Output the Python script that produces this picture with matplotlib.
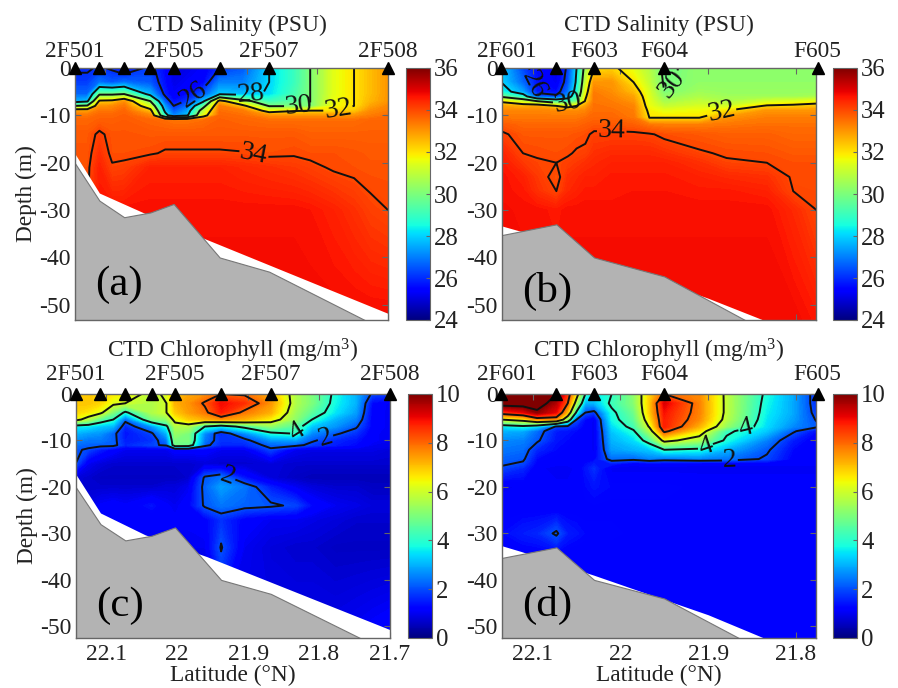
import numpy as np
import matplotlib
matplotlib.use('Agg')
import matplotlib.pyplot as plt

plt.rcParams['font.family'] = ['Liberation Serif', 'DejaVu Serif']
plt.rcParams['mathtext.fontset'] = 'custom'
plt.rcParams['mathtext.rm'] = 'Liberation Serif'
plt.rcParams['mathtext.default'] = 'regular'

# ---------- stations ----------
st_lat_5 = [22.143, 22.108, 22.073, 22.036, 22.003, 21.938, 21.868, 21.700]
st_lat_6 = [22.136, 22.073, 22.030, 21.950, 21.775]
lab_lat_5 = [22.143, 22.003, 21.868, 21.700]
lab_txt_5 = ['2F501', '2F505', '2F507', '2F508']
lab_lat_6 = [22.130, 22.030, 21.950, 21.775]
lab_txt_6 = ['2F601', 'F603', 'F604', 'F605']

# ---------- bathymetry and lower limit of the sampled water ----------
bot_lat_5 = [22.143, 22.108, 22.073, 22.036, 22.003, 21.938, 21.868, 21.729]
bot_dep_5 = [-20.0, -28.0, -31.5, -30.5, -28.7, -40.0, -43.0, -53.5]
bot_lat_6 = [22.136, 22.073, 22.030, 21.950, 21.855]
bot_dep_6 = [-35.3, -33.0, -40.0, -44.0, -53.5]
lim_lat_a = [22.143, 22.108, 22.045, 21.958, 21.700]
lim_dep_a = [-18.0, -26.4, -30.6, -36.1, -51.8]
lim_lat_b = [22.136, 22.113, 21.900, 21.833]
lim_dep_b = [-33.3, -34.5, -48.6, -53.5]
lim_lat_c = [22.143, 22.108, 22.045, 21.958, 21.700]
lim_dep_c = [-17.2, -25.6, -30.3, -35.0, -50.7]
lim_lat_d = [22.136, 22.113, 22.030, 21.900, 21.830]
lim_dep_d = [-32.6, -33.9, -39.0, -47.5, -53.0]

# ---------- grid of panels (a), (c) ----------
lat_a = [22.143, 22.125, 22.108, 22.090, 22.073, 22.036, 22.015, 22.003, 21.984,
         21.961, 21.938, 21.905, 21.868, 21.833, 21.810, 21.777, 21.748, 21.725, 21.700]
dep_a = [0, -3, -5.5, -7, -8, -9, -10, -11, -14, -18, -21, -30, -53.5]
sal_a = [
 [25.9, 26.2, 26.7, 27.5, 30.0, 32.8, 33.4, 33.6, 33.8, 33.85, 33.9, 33.95, 33.95],
 [25.9, 26.2, 26.7, 27.8, 30.2, 32.8, 33.4, 33.6, 33.8, 33.85, 33.9, 33.95, 33.95],
 [26.1, 26.8, 29.8, 32.2, 33.0, 33.4, 33.6, 33.7, 34.1, 34.3, 34.5, 34.7, 34.8],
 [25.9, 26.5, 29.8, 32.3, 33.1, 33.4, 33.6, 33.7, 33.85, 33.9, 34.05, 34.7, 34.8],
 [25.4, 26.8, 30.0, 33.0, 33.4, 33.6, 33.7, 33.75, 33.85, 33.9, 34.1, 34.7, 34.8],
 [26.2, 26.5, 27.6, 30.0, 31.2, 32.4, 33.2, 33.6, 33.8, 33.95, 34.5, 34.7, 34.8],
 [25.5, 25.6, 25.8, 26.5, 27.2, 27.7, 28.5, 33.5, 33.8, 34.05, 34.5, 34.7, 34.8],
 [25.0, 25.1, 25.3, 25.6, 26.0, 26.5, 27.0, 33.4, 33.8, 34.05, 34.5, 34.7, 34.8],
 [25.1, 25.3, 25.6, 26.1, 26.7, 27.3, 27.8, 33.4, 33.8, 34.05, 34.5, 34.7, 34.8],
 [25.3, 25.5, 26.5, 27.8, 29.5, 30.8, 31.5, 33.5, 33.8, 34.05, 34.5, 34.7, 34.8],
 [26.0, 27.0, 27.9, 32.5, 33.3, 33.5, 33.6, 33.7, 33.8, 34.05, 34.5, 34.7, 34.8],
 [26.5, 27.0, 27.7, 30.5, 32.3, 33.3, 33.5, 33.6, 33.8, 34.02, 34.4, 34.7, 34.8],
 [28.0, 28.0, 28.1, 29.0, 29.9, 31.5, 33.0, 33.5, 33.8, 33.9, 34.3, 34.7, 34.8],
 [29.0, 29.0, 29.2, 29.5, 29.9, 31.9, 33.0, 33.5, 33.8, 33.95, 34.2, 34.7, 34.8],
 [30.0, 30.0, 30.0, 30.0, 30.0, 32.0, 33.0, 33.5, 33.7, 33.9, 34.1, 34.65, 34.8],
 [31.5, 31.5, 31.5, 31.6, 31.7, 32.0, 33.0, 33.5, 33.7, 33.9, 33.95, 34.5, 34.8],
 [32.0, 32.0, 32.0, 32.0, 32.0, 32.3, 33.0, 33.5, 33.7, 33.85, 33.9, 34.3, 34.8],
 [32.5, 32.5, 32.5, 32.6, 32.8, 33.1, 33.3, 33.6, 33.7, 33.8, 33.85, 34.1, 34.8],
 [33.0, 33.0, 33.0, 33.0, 33.2, 33.3, 33.5, 33.6, 33.7, 33.8, 33.85, 34.0, 34.8],
]

dep_c = [0, -2, -4, -5.5, -7, -8.5, -10, -11, -12, -15, -18, -20, -24, -27, -33, -53]
chl_c = [
 [6.8, 7.0, 6.8, 6.3, 3.6, 3.0, 2.6, 2.3, 2.1, 2.0, 0.8, 0.8, 0.9, 1.0, 1.0, 1.0],
 [7.0, 7.0, 6.6, 5.6, 3.5, 2.8, 2.4, 2.2, 1.9, 1.0, 0.7, 0.7, 0.9, 1.0, 1.0, 1.0],
 [6.8, 6.8, 6.2, 4.6, 3.2, 2.7, 2.4, 2.2, 1.5, 0.8, 0.6, 0.7, 1.1, 1.2, 1.1, 1.0],
 [6.6, 6.2, 5.0, 4.0, 3.0, 2.2, 2.2, 2.2, 1.2, 0.7, 0.6, 0.7, 1.2, 1.2, 1.0, 1.0],
 [6.5, 6.0, 3.8, 2.2, 1.6, 1.4, 1.5, 1.6, 1.0, 0.7, 0.6, 0.7, 1.1, 1.1, 1.0, 1.0],
 [5.7, 5.6, 5.6, 4.9, 2.7, 1.9, 1.7, 1.9, 1.0, 0.7, 0.6, 0.7, 1.4, 1.1, 1.0, 1.0],
 [6.2, 6.0, 6.0, 5.2, 3.8, 3.0, 2.4, 2.1, 1.0, 0.7, 0.6, 0.8, 1.1, 1.1, 1.0, 1.0],
 [7.0, 7.2, 6.9, 6.3, 5.6, 5.3, 5.0, 4.8, 1.2, 0.7, 0.6, 0.8, 1.0, 1.1, 1.0, 1.0],
 [7.3, 7.5, 7.4, 6.9, 5.6, 5.0, 5.0, 4.7, 1.2, 0.7, 0.7, 1.0, 1.2, 1.1, 1.0, 1.0],
 [7.5, 8.1, 7.8, 7.2, 4.0, 2.6, 2.4, 2.2, 1.2, 0.8, 2.1, 2.2, 2.1, 1.2, 1.0, 0.9],
 [8.0, 9.0, 8.8, 7.5, 3.5, 1.6, 1.7, 1.6, 1.0, 0.7, 2.4, 2.8, 2.4, 1.7, 2.05, 0.9],
 [7.9, 8.6, 7.8, 7.2, 4.3, 2.6, 1.8, 1.6, 1.0, 0.7, 1.4, 2.4, 2.2, 1.2, 1.0, 0.9],
 [7.2, 7.5, 7.2, 6.5, 5.2, 3.8, 2.7, 2.2, 1.9, 0.8, 0.8, 1.5, 2.1, 1.0, 0.8, 0.9],
 [5.6, 5.6, 5.4, 5.2, 4.5, 4.05, 2.8, 2.2, 1.0, 0.7, 0.6, 1.0, 1.9, 1.0, 0.7, 1.0],
 [5.0, 5.0, 4.6, 4.0, 3.2, 2.6, 2.1, 1.8, 0.9, 0.7, 0.5, 0.8, 1.3, 0.9, 0.7, 1.0],
 [3.8, 3.7, 3.5, 3.0, 2.7, 2.1, 1.6, 1.5, 0.9, 0.7, 0.5, 0.7, 1.0, 0.8, 0.6, 1.0],
 [3.0, 3.0, 2.8, 2.5, 2.1, 1.7, 1.4, 1.3, 0.9, 0.7, 0.5, 0.7, 0.9, 0.7, 0.6, 1.1],
 [1.9, 1.3, 1.2, 1.2, 1.2, 1.1, 1.1, 1.0, 0.9, 0.7, 0.5, 0.6, 0.8, 0.7, 0.6, 1.2],
 [1.8, 1.0, 1.0, 1.0, 1.0, 1.0, 1.0, 1.0, 0.8, 0.7, 0.5, 0.6, 0.8, 0.7, 0.6, 1.3],
]

# ---------- grid of panels (b), (d) ----------
lat_b = [22.136, 22.111, 22.095, 22.073, 22.060, 22.050, 22.040, 22.030, 22.010,
         21.985, 21.967, 21.950, 21.910, 21.879, 21.833, 21.803, 21.775]
dep_b = [0, -3, -5, -6, -7, -8, -9, -10.5, -12, -14, -18, -20, -23, -26, -30, -53.5]
sal_b = [
 [27.9, 28.0, 28.5, 29.8, 31.8, 32.8, 33.2, 33.4, 33.8, 34.1, 34.5, 34.6, 34.7, 34.7, 34.75, 34.8],
 [26.3, 26.7, 27.4, 28.6, 31.0, 32.6, 33.2, 33.4, 33.6, 33.8, 34.0, 34.2, 34.5, 34.6, 34.7, 34.8],
 [25.6, 25.7, 25.8, 26.5, 30.0, 32.8, 33.2, 33.4, 33.6, 33.8, 33.95, 34.05, 34.2, 34.3, 34.7, 34.8],
 [25.0, 25.2, 25.6, 26.2, 29.0, 32.0, 33.1, 33.4, 33.6, 33.8, 33.9, 34.0, 33.85, 34.0, 34.6, 34.8],
 [26.2, 26.4, 26.8, 27.3, 29.0, 31.5, 33.1, 33.4, 33.6, 33.8, 33.95, 34.1, 34.3, 34.4, 34.7, 34.8],
 [28.0, 28.2, 28.5, 29.0, 29.8, 32.0, 33.1, 33.4, 33.6, 33.85, 34.05, 34.2, 34.4, 34.5, 34.7, 34.8],
 [30.5, 31.0, 31.5, 31.8, 32.1, 32.8, 33.2, 33.5, 33.7, 33.9, 34.1, 34.3, 34.5, 34.6, 34.7, 34.8],
 [32.0, 33.0, 33.3, 33.4, 33.4, 33.5, 33.5, 33.6, 33.8, 34.1, 34.3, 34.4, 34.5, 34.6, 34.7, 34.8],
 [32.2, 33.0, 33.1, 33.2, 33.3, 33.4, 33.5, 33.6, 33.8, 34.1, 34.4, 34.5, 34.6, 34.6, 34.7, 34.8],
 [31.5, 32.0, 32.5, 32.8, 33.0, 33.2, 33.3, 33.4, 33.7, 34.1, 34.4, 34.5, 34.6, 34.65, 34.7, 34.8],
 [30.8, 31.0, 31.3, 31.4, 31.5, 31.6, 31.8, 32.0, 33.4, 34.05, 34.4, 34.5, 34.6, 34.65, 34.7, 34.8],
 [29.8, 29.9, 30.0, 30.3, 30.6, 31.0, 31.5, 32.0, 33.3, 33.9, 34.3, 34.5, 34.6, 34.65, 34.7, 34.8],
 [30.3, 30.3, 30.5, 30.7, 31.0, 31.3, 31.7, 32.0, 33.3, 33.8, 34.05, 34.3, 34.5, 34.6, 34.7, 34.8],
 [30.2, 30.3, 30.4, 30.5, 30.7, 31.2, 32.0, 33.0, 33.4, 33.7, 33.95, 34.05, 34.4, 34.6, 34.7, 34.8],
 [30.3, 30.3, 30.4, 30.5, 31.2, 32.1, 33.0, 33.3, 33.5, 33.7, 33.9, 34.0, 34.3, 34.5, 34.7, 34.8],
 [30.3, 30.3, 30.4, 30.5, 31.4, 32.2, 33.0, 33.3, 33.5, 33.6, 33.8, 33.9, 33.95, 34.0, 34.4, 34.8],
 [30.3, 30.3, 30.4, 30.6, 31.6, 32.4, 33.0, 33.3, 33.5, 33.6, 33.8, 33.9, 33.95, 33.97, 33.98, 34.6],
]

dep_d = [0, -2, -4, -5.5, -7, -8, -10, -12, -14, -15, -16, -20, -25, -30, -35, -53]
chl_d = [
 [10.8, 10.5, 8.5, 6.0, 3.5, 3.0, 2.6, 2.4, 2.2, 2.1, 1.9, 1.0, 1.2, 1.3, 1.1, 1.1],
 [10.8, 10.5, 9.0, 6.5, 3.8, 2.9, 2.5, 2.3, 2.1, 1.9, 1.6, 1.1, 1.2, 1.5, 1.1, 1.1],
 [10.8, 10.5, 9.8, 7.5, 3.4, 2.3, 2.1, 1.6, 1.3, 1.2, 1.1, 1.1, 1.2, 1.6, 1.1, 1.1],
 [10.0, 9.5, 9.0, 7.5, 1.9, 1.5, 1.4, 1.3, 1.2, 1.1, 1.0, 1.1, 1.2, 2.1, 1.1, 1.1],
 [8.5, 8.0, 7.0, 5.0, 1.8, 1.4, 1.3, 1.2, 1.1, 1.1, 1.0, 1.1, 1.2, 1.5, 1.1, 1.1],
 [6.5, 5.5, 3.8, 2.0, 1.5, 1.3, 1.2, 1.2, 1.1, 1.1, 1.1, 1.1, 1.2, 1.4, 1.1, 1.1],
 [4.0, 3.0, 2.0, 1.3, 1.2, 1.2, 1.2, 1.2, 1.2, 1.3, 1.4, 1.3, 1.2, 1.3, 1.1, 1.1],
 [3.5, 3.0, 1.8, 1.0, 1.0, 1.0, 1.0, 1.0, 1.2, 1.5, 1.7, 1.4, 1.2, 1.3, 1.1, 1.1],
 [4.0, 4.2, 3.8, 3.7, 3.4, 3.2, 3.0, 2.8, 2.3, 1.5, 1.0, 1.3, 1.2, 1.3, 1.1, 1.1],
 [5.2, 5.1, 4.8, 4.6, 4.3, 3.9, 3.4, 3.0, 2.2, 1.1, 1.0, 1.3, 1.2, 1.2, 1.1, 1.1],
 [6.8, 6.9, 6.9, 6.6, 6.1, 5.5, 4.4, 3.2, 2.5, 1.2, 1.0, 1.3, 1.2, 1.2, 1.1, 1.1],
 [8.0, 9.2, 8.9, 8.8, 8.8, 8.2, 6.3, 4.0, 2.3, 1.2, 1.0, 1.3, 1.2, 1.2, 1.1, 1.1],
 [7.6, 7.7, 7.7, 7.6, 7.2, 6.6, 5.5, 3.8, 2.5, 1.1, 1.0, 1.2, 1.1, 1.2, 1.1, 1.1],
 [5.8, 5.8, 5.8, 5.7, 5.3, 4.2, 3.8, 3.0, 2.4, 1.1, 1.0, 1.2, 1.1, 1.1, 1.1, 1.1],
 [3.8, 3.7, 3.6, 3.5, 3.4, 3.2, 2.5, 2.1, 1.9, 1.1, 1.0, 1.2, 1.1, 1.1, 1.1, 1.1],
 [2.9, 2.9, 2.9, 2.8, 2.6, 2.1, 1.5, 1.3, 1.2, 1.1, 1.0, 1.2, 1.1, 1.1, 1.1, 1.1],
 [1.6, 1.6, 1.7, 1.9, 2.1, 1.3, 1.1, 1.1, 1.1, 1.1, 1.0, 1.2, 1.1, 1.1, 1.1, 1.1],
]

titles = ['CTD Salinity (PSU)', 'CTD Salinity (PSU)',
          'CTD Chlorophyll (mg/m$^3$)', 'CTD Chlorophyll (mg/m$^3$)']
tags = ['(a)', '(b)', '(c)', '(d)']
x_ticks_5 = [22.1, 22.0, 21.9, 21.8, 21.7]
x_labs_5 = ['22.1', '22', '21.9', '21.8', '21.7']
x_ticks_6 = [22.1, 22.0, 21.9, 21.8]
x_labs_6 = ['22.1', '22', '21.9', '21.8']
y_ticks = [0, -10, -20, -30, -40, -50]

W, H = 898, 688
fig = plt.figure(figsize=(W / 100, H / 100), dpi=100)
FS = 16.8
INK = '#222222'
EDGE = '#666666'


def box(x0, y0, x1, y1):
    return fig.add_axes([x0 / W, 1 - y1 / H, (x1 - x0) / W, (y1 - y0) / H])


panels = [
    dict(pos=(75, 68, 388, 320), cb=(406, 68, 430, 320), lat=lat_a, dep=dep_a, z=sal_a, vmin=24, vmax=36,
         clev=[26, 28, 30, 32, 34], cbt=[24, 26, 28, 30, 32, 34, 36], xlim=(22.1425, 21.70), ylim=-53.2,
         st=st_lat_5, ll=lab_lat_5, lt=lab_txt_5, bl=bot_lat_5, bd=bot_dep_5, tl=lim_lat_a, td=lim_dep_a,
         xt=x_ticks_5, xl=x_labs_5, tagx=0.065, tagy=0.10, laby=1.024,
         mlab=[(21.975, -5.5), (21.894, -5.6), (21.826, -8.4), (21.77, -9.2), (21.89, -18.5)]),
    dict(pos=(502, 68, 816, 320), cb=(833, 68, 857, 320), lat=lat_b, dep=dep_b, z=sal_b, vmin=24, vmax=36,
         clev=[26, 28, 30, 32, 34], cbt=[24, 26, 28, 30, 32, 34, 36], xlim=(22.135, 21.777), ylim=-53.2,
         st=st_lat_6, ll=lab_lat_6, lt=lab_txt_6, bl=bot_lat_6, bd=bot_dep_6, tl=lim_lat_b, td=lim_dep_b,
         xt=x_ticks_6, xl=x_labs_6, tagx=0.065, tagy=0.07, laby=1.024,
         mlab=[(22.09, -3), (22.06, -7.6), (21.935, -4.5), (21.885, -9), (22.01, -14)]),
    dict(pos=(76, 394, 390, 638), cb=(408, 394, 432, 638), lat=lat_a, dep=dep_c, z=chl_c, vmin=0, vmax=10,
         clev=[2, 4, 6, 8], cbt=[0, 2, 4, 6, 8, 10], xlim=(22.1425, 21.70), ylim=-52.5,
         st=st_lat_5, ll=lab_lat_5, lt=lab_txt_5, bl=bot_lat_5, bd=bot_dep_5, tl=lim_lat_c, td=lim_dep_c,
         xt=x_ticks_5, xl=x_labs_5, tagx=0.065, tagy=0.09, laby=1.036,
         mlab=[(21.826, -8.8), (21.79, -9.9), (21.93, -18.5)]),
    dict(pos=(502, 394, 816, 638), cb=(833, 394, 857, 638), lat=lat_b, dep=dep_d, z=chl_d, vmin=0, vmax=10,
         clev=[2, 4, 6, 8, 10], cbt=[0, 2, 4, 6, 8, 10], xlim=(22.135, 21.777), ylim=-52.5,
         st=st_lat_6, ll=lab_lat_6, lt=lab_txt_6, bl=bot_lat_6, bd=bot_dep_6, tl=lim_lat_d, td=lim_dep_d,
         xt=x_ticks_6, xl=x_labs_6, tagx=0.065, tagy=0.09, laby=1.036,
         mlab=[(21.875, -15), (21.905, -10.2), (21.855, -8.8)]),
]

for i, p in enumerate(panels):
    ax = box(*p['pos'])
    z = np.array(p['z']).T
    X, Y = np.meshgrid(p['lat'], p['dep'])
    levels = np.linspace(p['vmin'], p['vmax'], 161)
    ax.contourf(X, Y, z, levels=levels, cmap='jet', vmin=p['vmin'], vmax=p['vmax'],
                extend='both', antialiased=False, zorder=1)
    cs = ax.contour(X, Y, z, levels=p['clev'], colors='#111111', linewidths=1.4, zorder=2)
    ax.set_xlim(*p['xlim'])
    ax.set_ylim(p['ylim'], 0)
    ax.clabel(cs, fontsize=20, fmt='%d', manual=p['mlab'], inline=True, inline_spacing=1, colors='#111111')
    # water below the sampled depth is blank, sea bed is grey
    ax.fill_between(p['tl'], p['td'], p['ylim'] - 1, color='white', lw=0, zorder=3)
    ax.fill_between(p['bl'] + [p['xlim'][1]], p['bd'] + [p['ylim'] - 1], p['ylim'] - 1,
                    facecolor='#b3b3b3', edgecolor='#777777', lw=0.8, zorder=4)
    ax.plot(p['st'], [0] * len(p['st']), ls='none', marker='^', ms=8, color='black', clip_on=False, zorder=6)
    tr = ax.get_xaxis_transform()
    for la, tx in zip(p['ll'], p['lt']):
        ax.text(la, p['laby'], tx, transform=tr, ha='center', va='bottom', fontsize=FS, color=INK)
    ax.text(0.5, 1.125 if i < 2 else 1.12, titles[i], transform=ax.transAxes, ha='center', va='bottom',
            fontsize=FS, color=INK)
    ax.text(p['tagx'], p['tagy'], tags[i], transform=ax.transAxes, fontsize=31, color='black', zorder=7)
    ax.set_xticks(p['xt'])
    ax.set_xticklabels(p['xl'] if i >= 2 else [])
    ax.set_yticks(y_ticks)
    ax.set_yticklabels(['0', '-10', '-20', '-30', '-40', '-50'])
    ax.tick_params(direction='in', top=True, right=True, length=4, width=0.8, color=EDGE,
                   labelsize=FS + 0.2, labelcolor=INK, pad=3, zorder=8)
    ax.tick_params(axis='x', pad=4)
    for s in ax.spines.values():
        s.set_edgecolor(EDGE)
        s.set_linewidth(1.0)
        s.set_zorder(5)
    if i % 2 == 0:
        ax.set_ylabel('Depth (m)', fontsize=FS, color=INK, labelpad=2)
    if i >= 2:
        ax.set_xlabel('Latitude (°N)', fontsize=FS, color=INK, labelpad=0)

    cax = box(*p['cb'])
    sm = plt.cm.ScalarMappable(norm=plt.Normalize(p['vmin'], p['vmax']), cmap='jet')
    cb = fig.colorbar(sm, cax=cax, ticks=p['cbt'])
    cb.ax.tick_params(direction='in', length=3, width=0.8, color=EDGE, labelsize=FS + 1,
                      labelcolor=INK, pad=3)
    cb.outline.set_edgecolor(EDGE)

fig.savefig('out.png', dpi=100)
